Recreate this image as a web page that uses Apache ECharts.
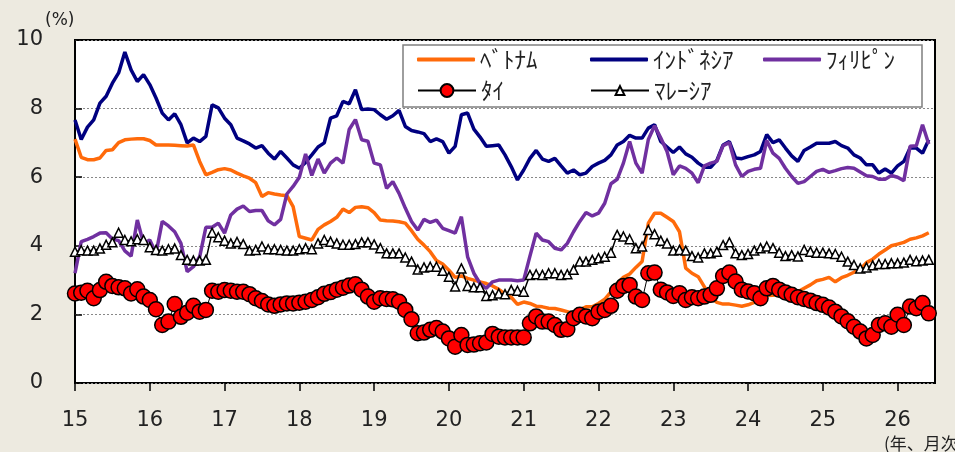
<!DOCTYPE html>
<html><head><meta charset="utf-8">
<script src="https://cdn.jsdelivr.net/npm/echarts@6/dist/echarts.min.js"></script>
<style>html,body{margin:0;padding:0;background:#EDEAE0;}#c{width:955px;height:452px;}</style>
</head><body><div id="c"></div>
<script>
// Monthly data starting Jan 2015 (year label "15")
const startYear = 15;
const xTickLabels = ['15','16','17','18','19','20','21','22','23','24','25','26'];
const yTickLabels = ['0','2','4','6','8','10'];
const seriesNames = ['ﾍﾞﾄﾅﾑ','ｲﾝﾄﾞﾈｼｱ','ﾌｨﾘﾋﾟﾝ','ﾀｲ','ﾏﾚｰｼｱ'];

const vietnam = [7.11,6.58,6.51,6.51,6.56,6.78,6.8,7.01,7.09,7.11,7.12,7.12,
7.07,6.94,6.94,6.94,6.93,6.92,6.91,6.94,6.46,6.07,6.14,6.22,
6.25,6.21,6.12,6.04,5.97,5.84,5.44,5.55,5.51,5.48,5.46,5.14,
4.27,4.22,4.17,4.48,4.61,4.71,4.83,5.07,4.97,5.12,5.14,5.11,
4.97,4.75,4.73,4.72,4.7,4.66,4.44,4.19,4.02,3.83,3.57,3.47,
3.29,3.08,3.12,3.05,3.0,2.95,2.9,2.83,2.73,2.6,2.5,2.29,
2.36,2.32,2.24,2.22,2.18,2.17,2.13,2.08,2.03,2.13,2.22,2.22,
2.32,2.44,2.66,2.9,3.08,3.18,3.37,3.54,4.66,4.95,4.95,4.83,
4.71,4.41,3.35,3.2,3.1,2.8,2.5,2.35,2.3,2.3,2.27,2.24,
2.28,2.35,2.5,2.55,2.56,2.57,2.58,2.6,2.66,2.76,2.86,2.98,
3.02,3.08,2.95,3.07,3.14,3.23,3.31,3.51,3.61,3.76,3.88,4.0,
4.05,4.1,4.19,4.23,4.29,4.38];

const indonesia = [7.67,7.1,7.46,7.67,8.16,8.36,8.74,9.04,9.65,9.13,8.79,8.99,
8.7,8.31,7.87,7.67,7.85,7.53,7.0,7.14,7.04,7.19,8.11,8.02,
7.72,7.53,7.14,7.06,6.97,6.85,6.92,6.7,6.53,6.75,6.56,6.36,
6.26,6.43,6.65,6.88,7.0,7.72,7.79,8.21,8.14,8.55,7.97,7.99,
7.97,7.82,7.69,7.79,7.95,7.48,7.36,7.32,7.27,7.04,7.12,7.04,
6.7,6.9,7.82,7.87,7.4,7.17,6.9,6.92,6.94,6.65,6.31,5.92,
6.21,6.55,6.78,6.53,6.46,6.55,6.33,6.12,6.21,6.07,6.12,6.31,
6.41,6.49,6.65,6.94,7.04,7.22,7.14,7.14,7.43,7.53,7.04,6.88,
6.72,6.88,6.68,6.58,6.41,6.29,6.29,6.49,6.94,7.04,6.56,6.54,
6.6,6.65,6.75,7.24,7.01,7.09,6.85,6.62,6.46,6.78,6.88,6.99,
6.99,6.99,7.04,6.92,6.85,6.65,6.56,6.36,6.36,6.12,6.24,6.12,
6.33,6.46,6.85,6.85,6.7,7.09];

const philippines = [3.2,4.12,4.19,4.27,4.37,4.38,4.2,4.15,3.85,3.7,4.75,4.07,
4.17,3.78,4.71,4.58,4.41,4.07,3.25,3.39,3.68,4.54,4.54,4.66,
4.37,4.9,5.07,5.16,5.0,5.03,5.03,4.73,4.61,4.77,5.51,5.73,
6.0,6.68,6.05,6.53,6.12,6.41,6.56,6.41,7.39,7.68,7.09,7.05,
6.41,6.36,5.68,5.87,5.53,5.1,4.71,4.46,4.77,4.68,4.75,4.51,
4.44,4.37,4.85,3.68,3.2,2.9,2.76,2.95,3.0,3.0,3.0,2.98,
3.0,3.7,4.37,4.17,4.12,3.93,3.88,4.07,4.41,4.71,4.97,4.87,
4.95,5.24,5.81,5.94,6.41,7.04,6.41,6.12,7.1,7.5,7.14,6.75,
6.07,6.33,6.26,6.12,5.84,6.33,6.41,6.46,6.92,7.01,6.36,6.02,
6.17,6.23,6.26,7.07,6.7,6.55,6.26,6.02,5.82,5.87,6.02,6.17,
6.23,6.14,6.19,6.25,6.28,6.26,6.15,6.04,6.02,5.94,5.94,6.05,
6.0,5.9,6.9,6.92,7.53,6.97];

const thailand = [2.61,2.63,2.69,2.47,2.71,2.95,2.83,2.79,2.76,2.61,2.73,2.52,
2.42,2.15,1.69,1.79,2.3,1.93,2.05,2.25,2.08,2.13,2.69,2.66,
2.71,2.69,2.66,2.66,2.59,2.47,2.39,2.29,2.25,2.29,2.32,2.32,
2.34,2.37,2.42,2.5,2.6,2.65,2.72,2.78,2.84,2.88,2.72,2.52,
2.37,2.47,2.45,2.44,2.37,2.13,1.86,1.45,1.47,1.55,1.6,1.5,
1.3,1.06,1.4,1.11,1.12,1.16,1.18,1.43,1.35,1.33,1.33,1.33,
1.33,1.74,1.94,1.79,1.79,1.69,1.55,1.57,1.89,1.99,1.94,1.89,
2.08,2.13,2.25,2.69,2.83,2.86,2.52,2.42,3.2,3.22,2.72,2.64,
2.54,2.62,2.42,2.5,2.47,2.52,2.57,2.76,3.12,3.22,2.96,2.72,
2.67,2.62,2.47,2.76,2.83,2.72,2.64,2.57,2.5,2.45,2.4,2.33,
2.28,2.2,2.08,1.94,1.8,1.64,1.5,1.3,1.4,1.69,1.74,1.64,
1.99,1.69,2.23,2.18,2.33,2.03];

const malaysia = [3.83,3.87,3.86,3.86,3.92,4.03,4.1,4.38,4.17,4.13,4.19,4.17,
3.96,3.88,3.86,3.9,3.92,3.73,3.59,3.57,3.57,3.59,4.38,4.25,
4.15,4.07,4.11,4.05,3.86,3.88,3.98,3.9,3.9,3.88,3.86,3.86,
3.9,3.93,3.9,4.07,4.17,4.12,4.07,4.03,4.03,4.05,4.1,4.1,
4.04,3.93,3.78,3.78,3.78,3.66,3.54,3.31,3.37,3.39,3.39,3.27,
3.1,2.81,3.34,2.83,2.79,2.79,2.54,2.56,2.61,2.59,2.71,2.69,
2.66,3.15,3.17,3.15,3.2,3.2,3.15,3.17,3.3,3.54,3.54,3.59,
3.64,3.68,3.8,4.32,4.27,4.19,3.93,3.98,4.46,4.34,4.15,4.07,
3.86,3.88,3.86,3.7,3.66,3.78,3.78,3.83,4.02,4.1,3.78,3.73,
3.76,3.86,3.93,3.98,3.93,3.8,3.7,3.73,3.69,3.88,3.83,3.8,
3.8,3.78,3.76,3.68,3.54,3.44,3.34,3.37,3.43,3.47,3.47,3.49,
3.49,3.51,3.59,3.55,3.57,3.59];

const toXY = arr => arr.map((v, i) => [startYear + i / 12, v]);
const xTickValues = xTickLabels.map(Number);
const yTickValues = yTickLabels.map(Number);

const FONT_NUM = 'DejaVu Sans';
const FONT_JP = 'Noto Sans CJK JP';

const chart = echarts.init(document.getElementById('c'), null, {renderer: 'canvas'});

function legendAt(name, left, top, extra) {
  return Object.assign({
    data: [name], left: left, top: top, padding: 0, itemWidth: 58, itemHeight: 15,
    itemGap: 0, textStyle: {fontFamily: FONT_JP, fontSize: 23, color: '#222'},
    z: 20, selectedMode: false
  }, extra || {});
}

const option = {
  backgroundColor: '#EDEAE0',
  animation: false,
  grid: {left: 75, right: 20, top: 40, bottom: 69, show: true, backgroundColor: '#ffffff', borderColor: '#000', borderWidth: 2, containLabel: false},
  legend: [
    legendAt(seriesNames[0], 417, 48, {icon: 'roundRect', itemHeight: 4}),
    legendAt(seriesNames[1], 590, 48, {icon: 'roundRect', itemHeight: 4}),
    legendAt(seriesNames[2], 763, 48, {icon: 'roundRect', itemHeight: 4}),
    legendAt(seriesNames[3], 417, 79, {itemHeight: 16}),
    legendAt(seriesNames[4], 590, 79, {itemHeight: 11})
  ],
  graphic: [
    {type: 'rect', shape: {x: 403, y: 45, width: 519, height: 62}, style: {fill: '#fff', stroke: '#7f7f7f', lineWidth: 1.5}, z: 10},
    {type: 'text', left: 45, top: 12, style: {text: '(%)', font: '17px "DejaVu Sans"', fill: '#222'}, z: 10},
    {type: 'text', left: 884, top: 435, style: {text: '(年、月次)', font: '17px "Noto Sans CJK JP"', fill: '#222'}, z: 10}
  ],
  xAxis: {
    type: 'value', min: 15, max: 26.5, interval: 1,
    axisLine: {show: false},
    axisTick: {show: true, inside: false, length: 8, lineStyle: {color: '#000', width: 1.5}, customValues: xTickValues},
    axisLabel: {fontFamily: FONT_NUM, fontSize: 21, color: '#222', margin: 27, customValues: xTickValues,
      formatter: v => xTickLabels[xTickValues.indexOf(v)] ?? ''},
    splitLine: {show: false}
  },
  yAxis: {
    type: 'value', min: 0, max: 10, interval: 2,
    axisLine: {show: false},
    axisTick: {show: true, inside: true, length: 7, lineStyle: {color: '#000', width: 1.5}},
    axisLabel: {fontFamily: FONT_NUM, fontSize: 21, color: '#222', margin: 32,
      formatter: v => yTickLabels[yTickValues.indexOf(v)] ?? ''},
    splitLine: {show: true, lineStyle: {color: '#888', type: [2, 2], width: 1}}
  },
  series: [
    {name: seriesNames[0], type: 'line', data: toXY(vietnam), symbol: 'none', z: 2,
      lineStyle: {color: '#FF6A0A', width: 3.5}, itemStyle: {color: '#FF6A0A'}},
    {name: seriesNames[1], type: 'line', data: toXY(indonesia), symbol: 'none', z: 3,
      lineStyle: {color: '#000080', width: 3.5}, itemStyle: {color: '#000080'}},
    {name: seriesNames[2], type: 'line', data: toXY(philippines), symbol: 'none', z: 4,
      lineStyle: {color: '#7030A0', width: 3.5}, itemStyle: {color: '#7030A0'}},
    {name: seriesNames[4], type: 'line', data: toXY(malaysia), symbol: 'triangle', symbolSize: 9, z: 5,
      lineStyle: {color: '#000', width: 1.5}, itemStyle: {color: '#fff', borderColor: '#000', borderWidth: 1.5}},
    {name: seriesNames[3], type: 'line', data: toXY(thailand), symbol: 'circle', symbolSize: 15, z: 6,
      lineStyle: {color: '#000', width: 1}, itemStyle: {color: '#FF0000', borderColor: '#000', borderWidth: 1.5}}
  ]
};
chart.setOption(option);
</script></body></html>
